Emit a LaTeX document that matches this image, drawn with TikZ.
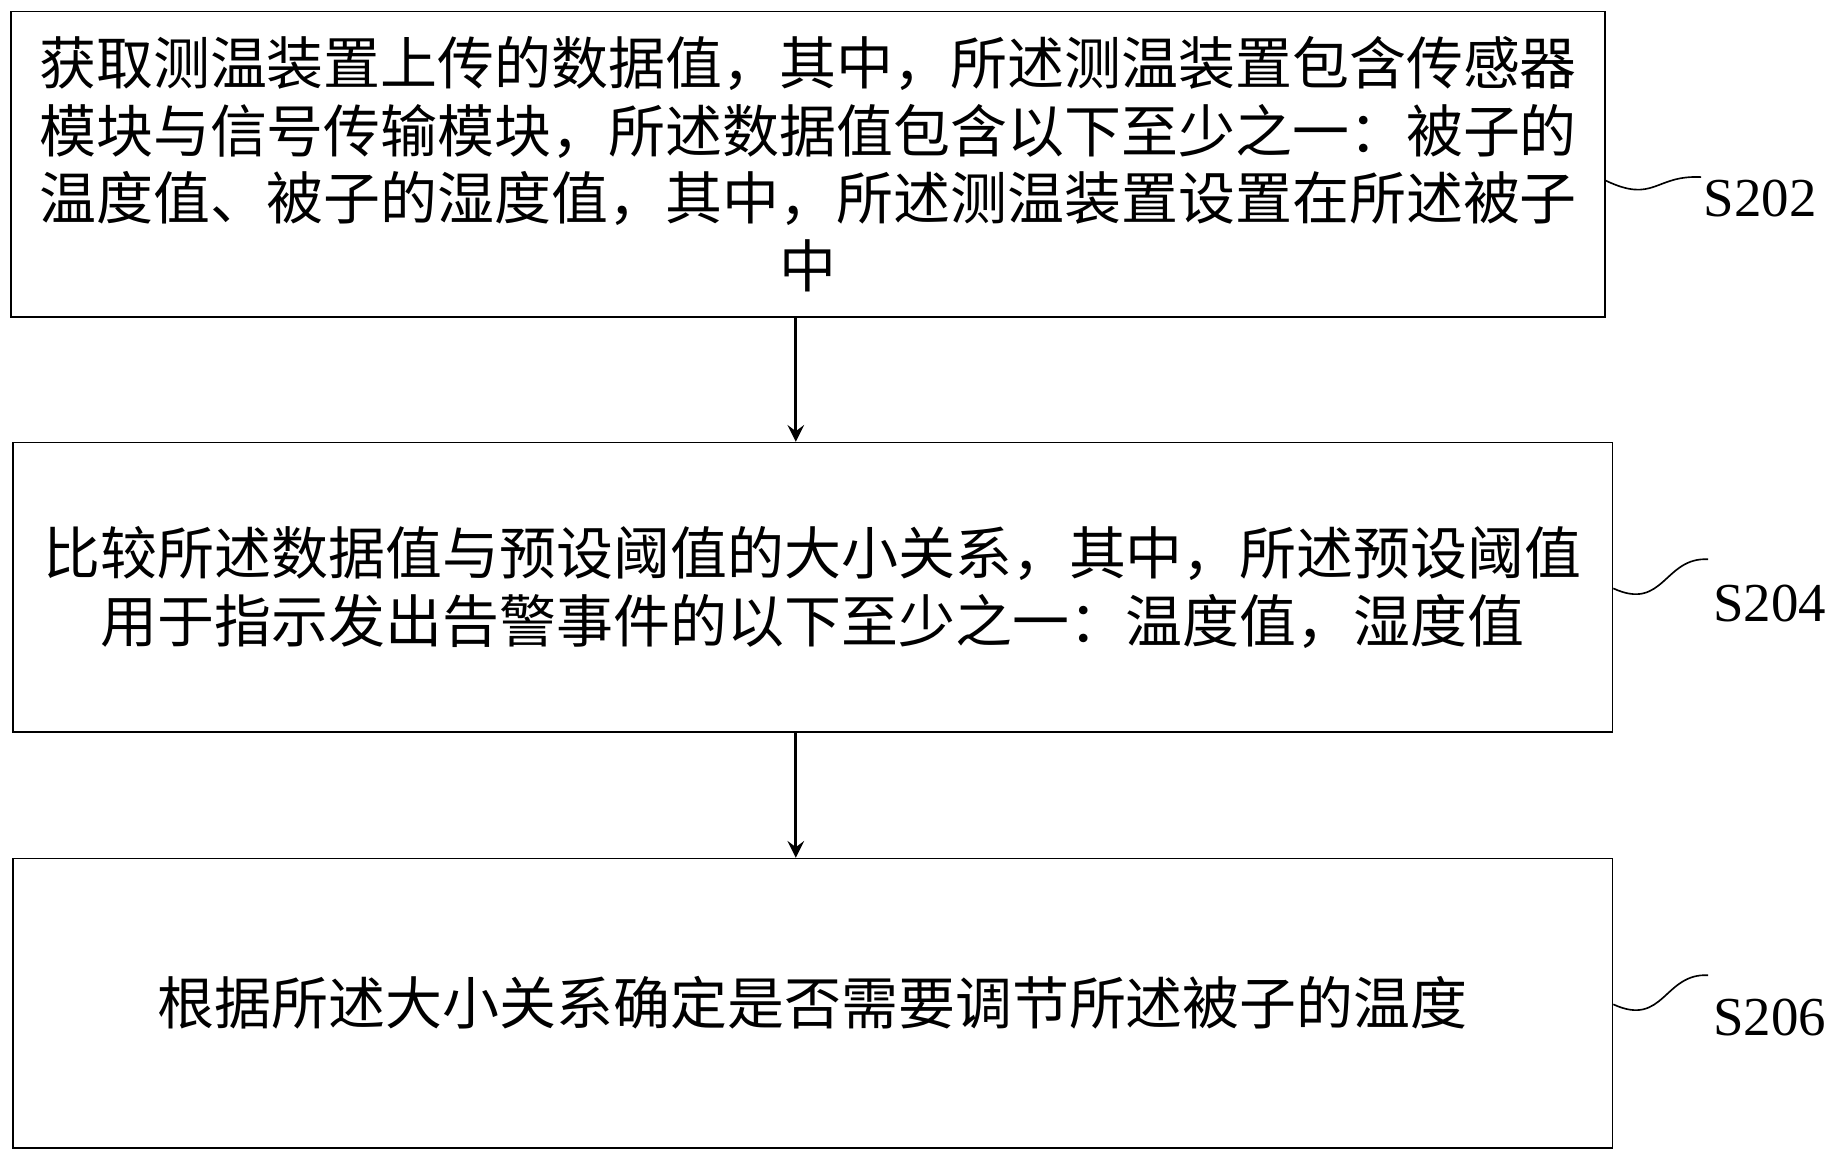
\documentclass[tikz,border=0pt]{standalone}
\usepackage{fontspec}
\setmainfont{Liberation Serif}
\newfontfamily\cjk{Noto Sans CJK SC}
\usetikzlibrary{positioning}
\tikzset{
  stepbox/.style={draw,thin,minimum width=13.72cm,minimum height=2.5cm,align=center,
    font=\cjk\fontsize{13.9pt}{16.5pt}\selectfont},
  tag/.style={font=\fontsize{13.4pt}{15pt}\selectfont,anchor=west},
  flow/.style={->,>=stealth,thick}
}
\begin{document}
\begin{tikzpicture}[x=0.01cm,y=-0.01cm]
  \useasboundingbox (0,0) rectangle (1568,995);
  \node[stepbox,minimum width=13.67cm,minimum height=2.62cm] (s1) at (693.5,141)
    {获取测温装置上传的数据值，其中，所述测温装置包含传感器\\
     模块与信号传输模块，所述数据值包含以下至少之一：被子的\\
     温度值、被子的湿度值，其中，所述测温装置设置在所述被子\\
     中};
  \node[stepbox,minimum height=2.48cm] (s2) at (697.5,504)
    {比较所述数据值与预设阈值的大小关系，其中，所述预设阈值\\
     用于指示发出告警事件的以下至少之一：温度值，湿度值};
  \node[stepbox,minimum height=2.48cm] (s3) at (697.5,861)
    {根据所述大小关系确定是否需要调节所述被子的温度};
  \node[tag] (l1) at (1450,170) {S202};
  \node[tag] (l2) at (1458,518) {S204};
  \node[tag] (l3) at (1458,873) {S206};
  \draw[flow] (s1.south -| 683,0) -- (s2.north -| 683,0);
  \draw[flow] (s2.south -| 683,0) -- (s3.north -| 683,0);
  % wavy leaders
  \draw (s1.east |- 0,155) .. controls (1420,175) and (1420,150) .. (1460,152);
  \draw (s2.east |- 0,505) .. controls (1428,525) and (1428,478) .. (1466,480);
  \draw (s3.east |- 0,862) .. controls (1428,882) and (1428,835) .. (1466,837);
\end{tikzpicture}
\end{document}
